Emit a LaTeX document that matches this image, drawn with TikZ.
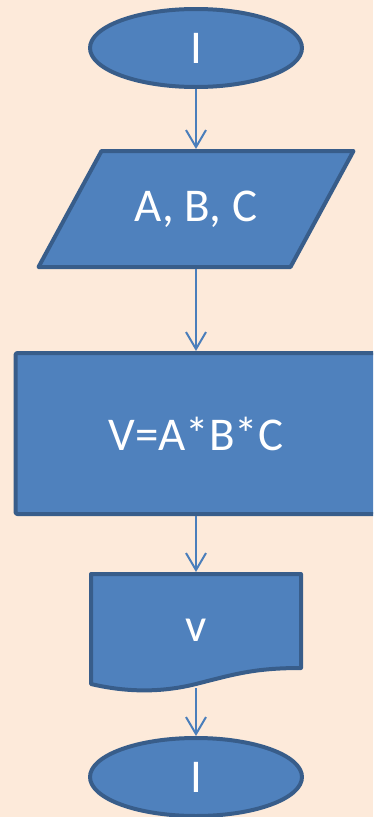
\documentclass[tikz,border=0pt]{standalone}
\usepackage{fontspec}
\setmainfont{Carlito}
\usetikzlibrary{shapes.geometric,arrows.meta}
\definecolor{bgpeach}{HTML}{FDEADA}
\definecolor{boxfill}{HTML}{4F81BD}
\definecolor{boxedge}{HTML}{385D8A}
\definecolor{arrowcol}{HTML}{4A7EBB}
\tikzset{
  shapestyle/.style={draw=boxedge, fill=boxfill, line width=4pt, line join=round},
  labeltext/.style={text=white, font=\fontsize{47}{56}\selectfont, inner sep=0pt},
  term/.style={shapestyle, labeltext, ellipse, minimum width=212pt, minimum height=78pt},
  procbox/.style={shapestyle, labeltext, rectangle, rounded corners=2pt, minimum width=361pt, minimum height=161pt},
  holder/.style={labeltext, rectangle, outer sep=2pt},
  flow/.style={draw=arrowcol, line width=2pt, -{Straight Barb[length=17pt,width=20pt,line width=2pt]}}
}
\begin{document}
\begin{tikzpicture}[x=1pt,y=-1pt]
\fill[bgpeach] (0,0) rectangle (373,817);
\useasboundingbox (0,0) rectangle (373,817);
\clip (0,0) rectangle (373,817);

% start terminal
\node[term] (start) at (196,48) {I};

% input parallelogram
\fill[shapestyle] (101.5,151) -- (353.5,151) -- (290.5,267) -- (38.5,267) -- cycle;
\node[holder, minimum width=190pt, minimum height=116pt] (io) at (196,209) {A, B, C};

% process
\node[procbox] (proc) at (196,433.5) {V=A*B*C};

% document output
\fill[shapestyle] (91,574) -- (301,574) -- (301,668)
  .. controls (255,668) and (235,674) .. (196,684)
  .. controls (160,693) and (125,692) .. (91,684) -- cycle;
\node[holder, minimum width=200pt, minimum height=112pt] (doc) at (196,630) {v};

% end terminal
\node[term] (stop) at (196,777) {I};

% connectors
\draw[flow] (start.south) -- (io.north);
\draw[flow] (io.south) -- (proc.north);
\draw[flow] (proc.south) -- (doc.north);
\draw[flow] (doc.south) -- (stop.north);
\end{tikzpicture}
\end{document}
